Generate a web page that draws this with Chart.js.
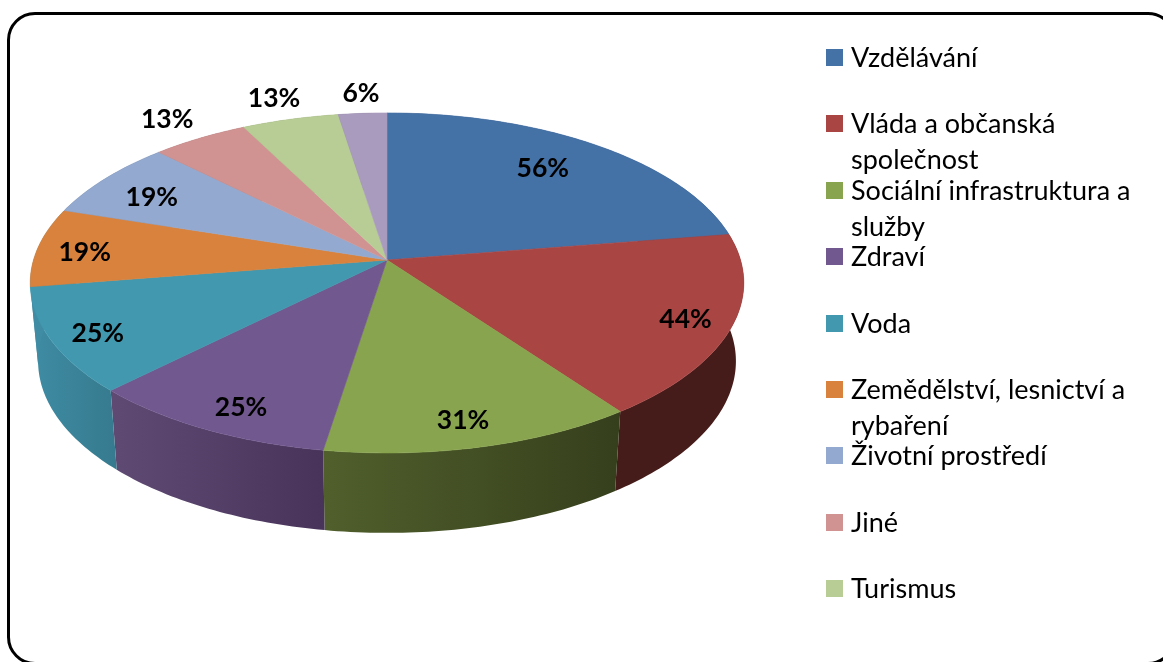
<!DOCTYPE html>
<html lang="cs">
<head>
<meta charset="utf-8">
<title>Sektory</title>
<script src="https://cdn.jsdelivr.net/npm/chart.js@4"></script>
<style>
    html, body { margin: 0; background: #fff; overflow: hidden; }
    #wrap { position: relative; width: 1163px; height: 662px; overflow: hidden; }
    #frame { position: absolute; left: 7px; top: 12px; width: 1163px; height: 647px; border: 3px solid #000; border-radius: 28px; }
    #chart { position: absolute; left: 0; top: 0; }
    #legend { position: absolute; left: 826px; top: 24px; font: 27px Lato, sans-serif; color: #000; }
    .item { position: relative; height: 66.4px; width: 330px; }
    .swatch { position: absolute; left: 0; top: 25px; width: 17px; height: 17px; }
    .name { position: absolute; left: 25px; top: 15px; line-height: 36px; width: 300px; }
</style>
</head>
<body>
<div id="wrap">
    <div id="frame"></div>
    <canvas id="chart" width="1163" height="662"></canvas>
    <div id="legend"></div>
</div>
<script>
const categories = ['Vzdělávání', 'Vláda a občanská společnost', 'Sociální infrastruktura a služby', 'Zdraví', 'Voda',
    'Zemědělství, lesnictví a rybaření', 'Životní prostředí', 'Jiné', 'Turismus'];
// labels are rounded to whole percent in the picture
const values = [56.25, 43.75, 31.25, 25, 25, 18.75, 18.75, 12.5, 12.5, 6.25];
const colors = ['#4471a6', '#a94543', '#88a44e', '#71588f', '#4198af', '#d9823d', '#93a9cf', '#d09392', '#b8cd96', '#a99bbd'];
// side wall shading, left to right
const sideColors = [
    ['#2a4566', '#2a4566'], ['#451c1a', '#451c1a'], ['#505f2c', '#363f1c'], ['#5f4a74', '#48345a'], ['#3f8ca4', '#367a8e'],
    ['#3f8ca4', '#3f8ca4'], ['#5a6a82', '#5a6a82'], ['#805a5a', '#805a5a'], ['#707d5c', '#707d5c'], ['#675e74', '#675e74']
];
// how far out each percent label sits, 1 = rim, then a small hand nudge in px
const labelRadius = [0.77, 0.87, 0.87, 0.865, 0.875, 0.86, 0.80, 1.19, 1.18, 1.17];
const labelNudgeX = [-8, 1, -5, 9, 2, -2, -7, -1, -1, 2];
const labelNudgeY = [-2, 0, 0, 3, 2, 3, 2, 1, 0, 1];

// perspective of the disc
const centerX = 387, centerY = 260;
const halfWidth = 353.5, persp = -0.135, spread = 166.9;
const depth = 78;

function project(angle, r) {
    const u = Math.cos(angle) * r, v = Math.sin(angle) * r;
    const w = 1 + persp * v;
    return { x: centerX + halfWidth * u / w, y: centerY + spread * v / w };
}

function lower(p) {
    return { x: centerX + (p.x - centerX) * 0.978, y: centerY + (p.y - centerY) * 1.01 + depth };
}

function rim(start, end) {
    const pts = [], steps = Math.max(2, Math.ceil((end - start) * 60));
    for (let i = 0; i <= steps; i++) pts.push(project(start + (end - start) * i / steps, 1));
    return pts;
}

const disc3d = {
    id: 'disc3d',
    beforeDatasetsDraw(chart) {
        const ctx = chart.ctx;
        const arcs = chart.getDatasetMeta(0).data;

        // side walls first, the top covers the back ones
        arcs.forEach((arc, i) => {
            const top = rim(arc.startAngle, arc.endAngle);
            const bottom = top.map(lower).reverse();
            const xs = top.concat(bottom).map(p => p.x);
            const grad = ctx.createLinearGradient(Math.min(...xs), 0, Math.max(...xs), 0);
            grad.addColorStop(0, sideColors[i][0]);
            grad.addColorStop(1, sideColors[i][1]);
            ctx.beginPath();
            top.concat(bottom).forEach((p, k) => k ? ctx.lineTo(p.x, p.y) : ctx.moveTo(p.x, p.y));
            ctx.closePath();
            ctx.fillStyle = grad;
            ctx.fill();
        });

        arcs.forEach((arc, i) => {
            ctx.beginPath();
            ctx.moveTo(centerX, centerY);
            rim(arc.startAngle, arc.endAngle).forEach(p => ctx.lineTo(p.x, p.y));
            ctx.closePath();
            ctx.fillStyle = colors[i];
            ctx.strokeStyle = colors[i];
            ctx.lineWidth = 0.6;
            ctx.fill();
            ctx.stroke();
        });

        ctx.fillStyle = '#000';
        ctx.font = 'bold 26.5px Lato, sans-serif';
        ctx.textAlign = 'center';
        ctx.textBaseline = 'middle';
        arcs.forEach((arc, i) => {
            const p = project((arc.startAngle + arc.endAngle) / 2, labelRadius[i]);
            ctx.fillText(Math.round(values[i]) + '%', p.x + labelNudgeX[i], p.y + 1 + labelNudgeY[i]);
        });
        return false;
    }
};

new Chart(document.getElementById('chart').getContext('2d'), {
    type: 'pie',
    data: {
        labels: categories,
        datasets: [{ data: values, backgroundColor: colors, borderWidth: 0 }]
    },
    options: {
        responsive: false,
        animation: false,
        events: [],
        plugins: { legend: { display: false }, tooltip: { enabled: false } }
    },
    plugins: [disc3d]
});

// legend is a plain list, Chart.js does not wrap its labels
const legend = document.getElementById('legend');
categories.forEach((name, i) => {
    const item = document.createElement('div');
    item.className = 'item';
    item.innerHTML = '<span class="swatch" style="background:' + colors[i] + '"></span><span class="name">' + name + '</span>';
    legend.appendChild(item);
});
</script>
</body>
</html>
